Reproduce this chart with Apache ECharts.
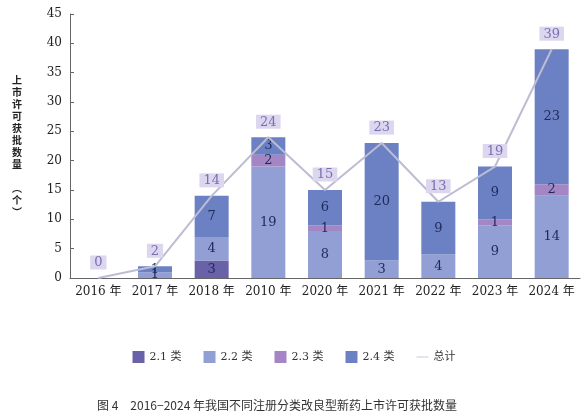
<!DOCTYPE html>
<html>
<head>
<meta charset="utf-8">
<script src="https://cdn.jsdelivr.net/npm/echarts@6/dist/echarts.min.js"></script>
<style>html,body{margin:0;padding:0;background:#fff}#chart{width:588px;height:420px}</style>
</head>
<body>
<div id="chart"></div>
<script>
var years = ['2016 年', '2017 年', '2018 年', '2010 年', '2020 年', '2021 年', '2022 年', '2023 年', '2024 年'];
var cls21 = [0, 0, 3, 0, 0, 0, 0, 0, 0];
var cls22 = [0, 1, 4, 19, 8, 3, 4, 9, 14];
var cls23 = [0, 0, 0, 2, 1, 0, 0, 1, 2];
var cls24 = [0, 1, 7, 3, 6, 20, 9, 9, 23];
var total = [0, 2, 14, 24, 15, 23, 13, 19, 39];

var font = 'DejaVu Serif, Noto Sans CJK SC';
var chart = echarts.init(document.getElementById('chart'));

function barSeries(name, data, color) {
    return {
        name: name,
        type: 'bar',
        stack: 'all',
        barWidth: '60%',
        data: data.map(function (v) { return v === 0 ? null : v; }),
        itemStyle: { color: color },
        label: { show: true, position: 'inside', color: '#1f2a5a', fontSize: 13, fontFamily: font }
    };
}

chart.setOption({
    animation: false,
    textStyle: { fontFamily: font },
    title: {
        text: '图 4　2016−2024 年我国不同注册分类改良型新药上市许可获批数量',
        left: 92, bottom: 4,
        textStyle: { fontSize: 12, fontWeight: 'normal', color: '#333', fontFamily: 'Noto Sans CJK SC' }
    },
    legend: {
        bottom: 52, left: 'center', itemWidth: 12, itemHeight: 12, itemGap: 22,
        textStyle: { fontSize: 11, color: '#333', fontFamily: font },
        data: [
            { name: '2.1 类', icon: 'rect' }, { name: '2.2 类', icon: 'rect' },
            { name: '2.3 类', icon: 'rect' }, { name: '2.4 类', icon: 'rect' },
            { name: '总计', icon: 'path://M0,0H30V2H0Z' }
        ]
    },
    grid: { left: 70, right: 8, top: 14, bottom: 142 },
    xAxis: {
        type: 'category', data: years,
        axisTick: { show: false },
        axisLine: { lineStyle: { color: '#666' } },
        axisLabel: { color: '#222', fontSize: 12, margin: 8, interval: 0 }
    },
    yAxis: {
        type: 'value', min: 0, max: 45, interval: 5,
        name: '上\n市\n许\n可\n获\n批\n数\n量\n\n︵\n个\n︶',
        nameLocation: 'middle', nameGap: 48, nameRotate: 0,
        nameTextStyle: { fontSize: 10, color: '#222', lineHeight: 12, fontFamily: 'Noto Sans CJK SC', fontWeight: 'bold' },
        splitLine: { show: false },
        axisLine: { show: true, lineStyle: { color: '#666' } },
        axisTick: { show: true, inside: true, length: 4 },
        axisLabel: { color: '#222', fontSize: 12 }
    },
    series: [
        barSeries('2.1 类', cls21, '#6a62a8'),
        barSeries('2.2 类', cls22, '#919fd4'),
        barSeries('2.3 类', cls23, '#a486c4'),
        barSeries('2.4 类', cls24, '#6c80c4'),
        {
            name: '总计', type: 'line', data: total,
            symbol: 'circle', symbolSize: 1, showSymbol: true, z: 5,
            lineStyle: { color: '#bcbcd2', width: 2 },
            itemStyle: { color: '#bcbcd2' },
            label: {
                show: true, position: 'top', distance: 8,
                color: '#7a6fb3', fontSize: 13, fontFamily: font,
                backgroundColor: '#dcd6ee', padding: [1, 4, 0, 4]
            }
        }
    ]
});
</script>
</body>
</html>
